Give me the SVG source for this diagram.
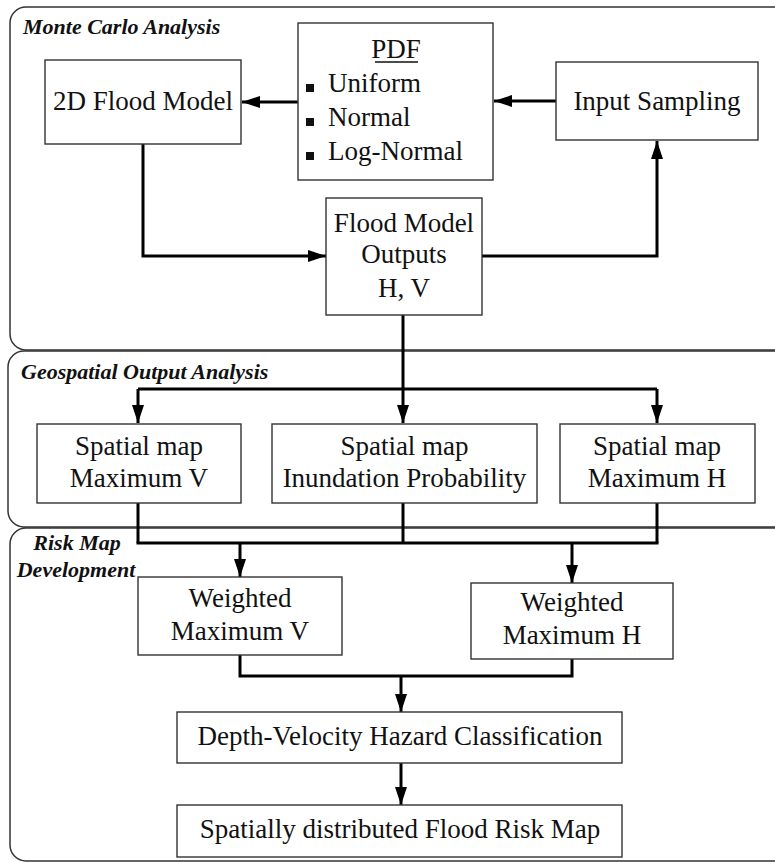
<svg xmlns="http://www.w3.org/2000/svg" width="775" height="862" viewBox="0 0 775 862">
<style>
.panel{fill:none;stroke:#333;stroke-width:1.5}
.box{fill:#fff;stroke:#333;stroke-width:1.4}
.t{font-family:"Liberation Serif","Times New Roman",serif;font-size:27px;fill:#111;text-anchor:middle}
.tl{font-family:"Liberation Serif","Times New Roman",serif;font-size:27px;fill:#111}
.ttl{font-family:"Liberation Serif","Times New Roman",serif;font-size:22px;font-weight:bold;font-style:italic;fill:#111}
.c{fill:none;stroke:#000;stroke-width:3}
</style>
<defs>
<marker id="ah" markerWidth="18" markerHeight="12" refX="18" refY="6" orient="auto" markerUnits="userSpaceOnUse">
<path d="M0,0 L18,6 L0,12 Z" fill="#000"/>
</marker>
</defs>
<rect width="775" height="862" fill="#fff"/>
<g id="panel-monte-carlo">
<rect class="panel" x="10" y="7" width="785" height="343" rx="16"/>
<text class="ttl" x="23" y="34">Monte Carlo Analysis</text>
</g>
<g id="panel-geospatial">
<rect class="panel" x="8" y="351" width="787" height="176" rx="16"/>
<text class="ttl" x="21" y="379">Geospatial Output Analysis</text>
</g>
<g id="panel-risk">
<rect class="panel" x="10" y="528" width="785" height="333" rx="16"/>
<text class="ttl" x="77" y="550" text-anchor="middle">Risk Map</text>
<text class="ttl" x="76" y="577" text-anchor="middle">Development</text>
</g>
<g id="connectors">
<line class="c" x1="556" y1="101" x2="494" y2="101" marker-end="url(#ah)"/>
<line class="c" x1="298" y1="102" x2="242" y2="102" marker-end="url(#ah)"/>
<polyline class="c" points="143,144 143,256 326,256" marker-end="url(#ah)"/>
<polyline class="c" points="482,256 657,256 657,141" marker-end="url(#ah)"/>
<line class="c" x1="403" y1="315" x2="403" y2="389"/>
<line class="c" x1="138" y1="389" x2="657" y2="389"/>
<polyline class="c" points="138,389 138,423" marker-end="url(#ah)"/>
<line class="c" x1="403" y1="389" x2="403" y2="423" marker-end="url(#ah)"/>
<polyline class="c" points="657,389 657,423" marker-end="url(#ah)"/>
<line class="c" x1="138" y1="503" x2="138" y2="543"/>
<line class="c" x1="403" y1="503" x2="403" y2="543"/>
<line class="c" x1="657" y1="503" x2="657" y2="543"/>
<line class="c" x1="136.5" y1="543" x2="658.5" y2="543"/>
<line class="c" x1="240" y1="543" x2="240" y2="577" marker-end="url(#ah)"/>
<line class="c" x1="572" y1="543" x2="572" y2="583" marker-end="url(#ah)"/>
<polyline class="c" points="240,655 240,676 572,676 572,659"/>
<line class="c" x1="401" y1="676" x2="401" y2="712" marker-end="url(#ah)"/>
<line class="c" x1="401" y1="763" x2="401" y2="805" marker-end="url(#ah)"/>
</g>
<g id="node-2d-flood-model">
<rect class="box" x="45" y="60" width="196" height="84"/>
<text class="t" x="143" y="110">2D Flood Model</text>
</g>
<g id="node-pdf">
<rect class="box" x="298" y="23" width="195" height="157"/>
<text class="t" x="396" y="58">PDF</text>
<line x1="375" y1="62" x2="418" y2="62" stroke="#111" stroke-width="1.4"/>
<rect x="306" y="84" width="8" height="8" fill="#111"/>
<rect x="306" y="118" width="8" height="8" fill="#111"/>
<rect x="306" y="152" width="8" height="8" fill="#111"/>
<text class="tl" x="328" y="92">Uniform</text>
<text class="tl" x="328" y="126">Normal</text>
<text class="tl" x="328" y="160">Log-Normal</text>
</g>
<g id="node-input-sampling">
<rect class="box" x="556" y="62" width="202" height="78"/>
<text class="t" x="657" y="110">Input Sampling</text>
</g>
<g id="node-flood-model-outputs">
<rect class="box" x="326" y="198" width="156" height="117"/>
<text class="t" x="404" y="232">Flood Model</text>
<text class="t" x="404" y="263">Outputs</text>
<text class="t" x="404" y="297">H, V</text>
</g>
<g id="node-spatial-v">
<rect class="box" x="37" y="424" width="204" height="79"/>
<text class="t" x="139" y="455">Spatial map</text>
<text class="t" x="139" y="487">Maximum V</text>
</g>
<g id="node-spatial-inundation">
<rect class="box" x="272" y="424" width="265" height="79"/>
<text class="t" x="404.5" y="455">Spatial map</text>
<text class="t" x="404.5" y="487">Inundation Probability</text>
</g>
<g id="node-spatial-h">
<rect class="box" x="560" y="424" width="195" height="79"/>
<text class="t" x="657" y="455">Spatial map</text>
<text class="t" x="657" y="487">Maximum H</text>
</g>
<g id="node-weighted-v">
<rect class="box" x="138" y="577" width="204" height="78"/>
<text class="t" x="240" y="607">Weighted</text>
<text class="t" x="240" y="640">Maximum V</text>
</g>
<g id="node-weighted-h">
<rect class="box" x="471" y="583" width="202" height="76"/>
<text class="t" x="572" y="611">Weighted</text>
<text class="t" x="572" y="644">Maximum H</text>
</g>
<g id="node-hazard">
<rect class="box" x="177" y="712" width="445" height="51"/>
<text class="t" x="400" y="745">Depth-Velocity Hazard Classification</text>
</g>
<g id="node-risk-map">
<rect class="box" x="177" y="805" width="445" height="52"/>
<text class="t" x="400" y="838">Spatially distributed Flood Risk Map</text>
</g>
</svg>
